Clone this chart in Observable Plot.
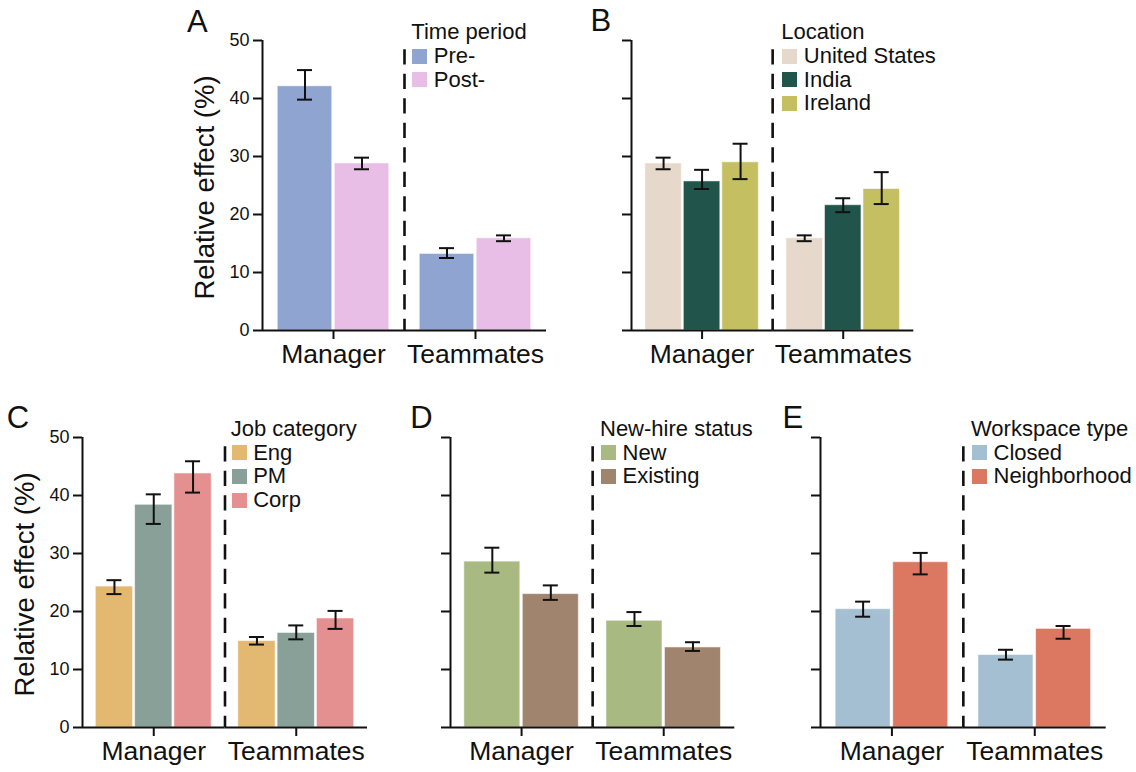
<!DOCTYPE html>
<html><head><meta charset="utf-8">
<script src="https://cdn.jsdelivr.net/npm/d3@7"></script>
<script src="https://cdn.jsdelivr.net/npm/@observablehq/plot@0.6"></script>
<style>
body{margin:0;background:#fff;}
#fig{position:relative;width:1136px;height:772px;font-family:"Liberation Sans",Arial,sans-serif;color:#111;overflow:hidden;}
.abs{position:absolute;line-height:1;white-space:nowrap;}
.sw{position:absolute;width:15px;height:15px;}
</style></head><body><div id="fig"></div>
<script>
// ---------- data ----------
const groups = ["Manager", "Teammates"];
const yTicks = [0, 10, 20, 30, 40, 50];
const yLabel = "Relative effect (%)";

const timeTitle = "Time period";
const timePeriods = ["Pre-", "Post-"];
const timeColors = ["#8fa4d0", "#e8bee6"];
const timeValues = [42.1, 28.8, 13.2, 15.9];
const timeLower  = [39.8, 27.8, 12.5, 15.4];
const timeUpper  = [44.9, 29.8, 14.2, 16.4];

const locTitle = "Location";
const locations = ["United States", "India", "Ireland"];
const locColors = ["#e6d9cb", "#21544a", "#c4c062"];
const locValues = [28.8, 25.7, 29.0, 15.9, 21.6, 24.4];
const locLower  = [27.8, 24.4, 26.1, 15.4, 20.4, 21.8];
const locUpper  = [29.8, 27.7, 32.2, 16.4, 22.8, 27.3];

const jobTitle = "Job category";
const jobs = ["Eng", "PM", "Corp"];
const jobColors = ["#e3b870", "#88a098", "#e59090"];
const jobValues = [24.3, 38.4, 43.8, 14.9, 16.3, 18.8];
const jobLower  = [23.0, 35.1, 40.5, 14.3, 15.2, 17.0];
const jobUpper  = [25.4, 40.2, 45.9, 15.6, 17.6, 20.1];

const hireTitle = "New-hire status";
const hireStatus = ["New", "Existing"];
const hireColors = ["#a8b982", "#a0846d"];
const hireValues = [28.6, 23.0, 18.4, 13.8];
const hireLower  = [26.7, 22.0, 17.5, 13.2];
const hireUpper  = [31.0, 24.5, 19.9, 14.7];

const wsTitle = "Workspace type";
const workspaces = ["Closed", "Neighborhood"];
const wsColors = ["#a3bfd1", "#dc7862"];
const wsValues = [20.4, 28.5, 12.5, 17.0];
const wsLower  = [19.1, 26.4, 11.7, 15.3];
const wsUpper  = [21.7, 30.1, 13.4, 17.5];

// ---------- layout ----------
const panels = [
  {letter:"A", lx:187, ly:32, axisX:262, endX:546, top:40, bottom:330, bw:54.5, gap:2.5, showY:true,
   title:timeTitle, subs:timePeriods, colors:timeColors, v:timeValues, lo:timeLower, hi:timeUpper, legX:412.3, legY:40},
  {letter:"B", lx:590.4, ly:31.7, axisX:630.7, endX:913, top:40, bottom:330, bw:36.5, gap:2, showY:false,
   title:locTitle, subs:locations, colors:locColors, v:locValues, lo:locLower, hi:locUpper, legX:782.3, legY:40},
  {letter:"C", lx:6.8, ly:428, axisX:81.7, endX:366.7, top:436.7, bottom:726.7, bw:37.3, gap:2, showY:true,
   title:jobTitle, subs:jobs, colors:jobColors, v:jobValues, lo:jobLower, hi:jobUpper, legX:231.7, legY:436.7},
  {letter:"D", lx:410.3, ly:428, axisX:449.7, endX:734, top:436.7, bottom:726.7, bw:56, gap:2.5, showY:false,
   title:hireTitle, subs:hireStatus, colors:hireColors, v:hireValues, lo:hireLower, hi:hireUpper, legX:601, legY:436.7},
  {letter:"E", lx:782.6, ly:428, axisX:820, endX:1105.7, top:436.7, bottom:726.7, bw:55, gap:2.6, showY:false,
   title:wsTitle, subs:workspaces, colors:wsColors, v:wsValues, lo:wsLower, hi:wsUpper, legX:972, legY:436.7}
];

const fig = document.getElementById("fig");
const INK = "#111";
const FONT = "'Liberation Sans', Arial, sans-serif";

function textAt(str, x, baseline, size, extra) {
  const d = document.createElement("div");
  d.className = "abs";
  d.textContent = str;
  d.style.left = x + "px";
  d.style.top = (baseline - 0.8465 * size) + "px";
  d.style.fontSize = size + "px";
  if (extra) Object.assign(d.style, extra);
  fig.appendChild(d);
}

function drawPanel(p) {
  const ML = 100, MR = 10, MT = 12, MB = 52;
  const W = (p.endX - p.axisX) / 2;
  const n = p.subs.length;
  const step = p.bw + p.gap;
  const pi = p.gap / step;
  const po = (W - n * p.bw - (n - 1) * p.gap) / (2 * step);
  const rows = [];
  groups.forEach((g, gi) => p.subs.forEach((s, si) => {
    const k = gi * n + si;
    rows.push({group: g, sub: s, value: p.v[k], lo: p.lo[k], hi: p.hi[k]});
  }));
  const capInset = (p.bw - 15) / 2;
  const labelSize = 27.5;
  const marks = [
    Plot.barY(rows, {fx: "group", x: "sub", y: "value", fill: "sub", stroke: "#fff", strokeOpacity: 0.55, strokeWidth: 1}),
    Plot.ruleY([0], {stroke: INK, strokeWidth: 2}),
    Plot.ruleX([{group: groups[0]}], {fx: "group", x: null, y1: 0, y2: 50, dx: -W / 2, stroke: INK, strokeWidth: 2}),
    Plot.ruleX([{group: groups[1]}], {fx: "group", x: null, y1: 48.4, y2: 0, dx: -W / 2, stroke: INK, strokeWidth: 2.6, strokeDasharray: "15.3,9.2"}),
    Plot.ruleX(rows, {fx: "group", x: "sub", y1: "lo", y2: "hi", stroke: INK, strokeWidth: 2}),
    Plot.tickY(rows, {fx: "group", x: "sub", y: "lo", insetLeft: capInset, insetRight: capInset, stroke: INK, strokeWidth: 2}),
    Plot.tickY(rows, {fx: "group", x: "sub", y: "hi", insetLeft: capInset, insetRight: capInset, stroke: INK, strokeWidth: 2}),
    Plot.axisY({ticks: yTicks, tickSize: 9, tickPadding: 4, fontSize: 18, strokeWidth: 2, stroke: INK, label: null,
      tickFormat: p.showY ? (d) => String(d) : () => ""}),
    Plot.axisFx({anchor: "bottom", tickSize: 9, tickPadding: 5, fontSize: 26.5, strokeWidth: 2, stroke: INK, label: null})
  ];
  if (p.showY) {
    marks.push(Plot.text([yLabel], {fx: [groups[0]], frameAnchor: "left", textAnchor: "middle", rotate: -90,
      dx: -(48.5 + 0.32 * labelSize), dy: 2, fontSize: labelSize, fill: INK, text: (d) => d}));
  }
  const svg = Plot.plot({
    width: ML + 2 * W + MR,
    height: MT + (p.bottom - p.top) + MB,
    marginLeft: ML, marginRight: MR, marginTop: MT, marginBottom: MB,
    facet: {marginTop: 0, marginRight: 0, marginBottom: 0, marginLeft: 0},
    fx: {domain: groups, padding: 0, round: false},
    x: {domain: p.subs, paddingInner: pi, paddingOuter: po, align: 0.5, round: false, axis: null},
    y: {domain: [0, 50]},
    color: {domain: p.subs, range: p.colors},
    style: {fontFamily: FONT, color: INK, background: "transparent", overflow: "visible"},
    marks
  });
  svg.style.position = "absolute";
  svg.style.left = (p.axisX - ML) + "px";
  svg.style.top = (p.top - MT) + "px";
  fig.appendChild(svg);

  // panel letter
  textAt(p.letter, p.lx, p.ly, 31);
  // legend
  textAt(p.title, p.legX - 1, p.legY, 22);
  p.subs.forEach((s, i) => {
    const base = p.legY + 23.6 * (i + 1);
    const sw = document.createElement("div");
    sw.className = "sw";
    sw.style.left = p.legX + "px";
    sw.style.top = (base - 15) + "px";
    sw.style.background = p.colors[i];
    fig.appendChild(sw);
    textAt(s, p.legX + 21.5, base, 22);
  });
}

panels.forEach(drawPanel);
</script></body></html>
